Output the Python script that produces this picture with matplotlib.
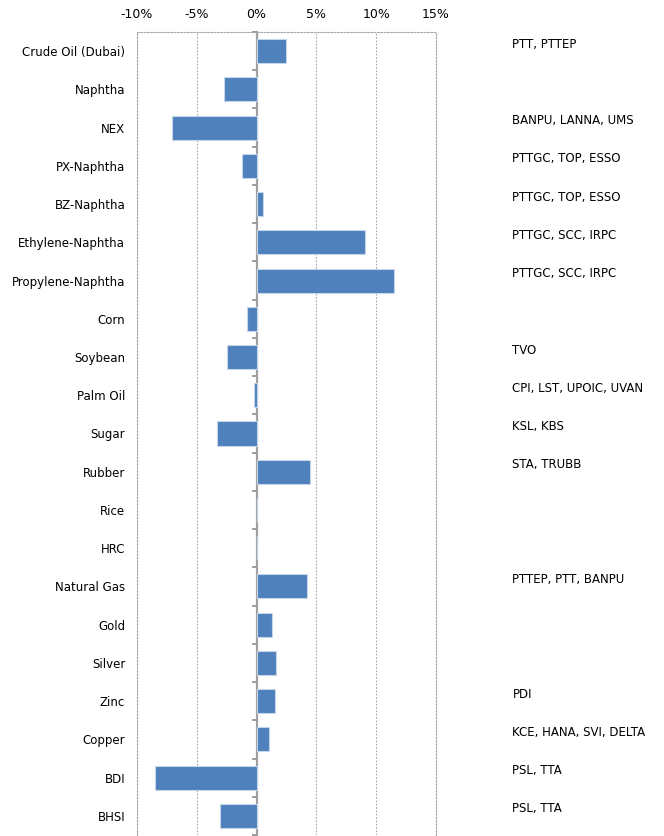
import numpy as np
import matplotlib
matplotlib.use("Agg")
import matplotlib.pyplot as plt
from matplotlib.ticker import PercentFormatter

plt.rcParams["axes.unicode_minus"] = False
plt.rcParams["font.family"] = "DejaVu Sans"

categories = ["Crude Oil (Dubai)", "Naphtha", "NEX", "PX-Naphtha", "BZ-Naphtha",
              "Ethylene-Naphtha", "Propylene-Naphtha", "Corn", "Soybean", "Palm Oil",
              "Sugar", "Rubber", "Rice", "HRC", "Natural Gas", "Gold", "Silver",
              "Zinc", "Copper", "BDI", "BHSI"]
change_pct = [2.5, -2.7, -7.1, -1.2, 0.5, 9.1, 11.5, -0.8, -2.5, -0.2,
              -3.3, 4.5, 0.05, 0.0, 4.2, 1.3, 1.6, 1.5, 1.0, -8.5, -3.1]
stocks = ["PTT, PTTEP", "", "BANPU, LANNA, UMS", "PTTGC, TOP, ESSO", "PTTGC, TOP, ESSO",
          "PTTGC, SCC, IRPC", "PTTGC, SCC, IRPC", "", "TVO", "CPI, LST, UPOIC, UVAN",
          "KSL, KBS", "STA, TRUBB", "", "", "PTTEP, PTT, BANPU", "", "",
          "PDI", "KCE, HANA, SVI, DELTA", "PSL, TTA", "PSL, TTA"]
xticks = [-10, -5, 0, 5, 10, 15]

fig = plt.figure(figsize=(6.64, 8.36), dpi=100)
ax = fig.add_axes([137 / 664, 1 / 836, 299 / 664, 803 / 836])

y = np.arange(len(categories))
ax.barh(y, change_pct, height=0.63, color="#4f81bd", edgecolor="#c5d5ea",
        linewidth=0.8, zorder=3)

ax.set_xlim(-10, 15)
ax.set_ylim(len(categories) - 0.5, -0.5)
ax.set_xticks(xticks)
ax.xaxis.set_major_formatter(PercentFormatter(decimals=0))
ax.xaxis.tick_top()
ax.tick_params(axis="x", length=0, pad=8, labelsize=9)
ax.set_yticks(y)
ax.set_yticklabels(categories)
ax.tick_params(axis="y", length=0, pad=8.5, labelsize=8.5)

dash = (0, (1.5, 1.5))
for xv in xticks:
    if xv != 0:
        ax.axvline(xv, color="#a6a6a6", lw=0.8, ls=dash, zorder=1)
for side in ("top", "left", "right"):
    ax.spines[side].set_linestyle(dash)
    ax.spines[side].set_color("#a6a6a6")
    ax.spines[side].set_linewidth(0.8)
ax.spines["bottom"].set_visible(False)

# zero axis with category boundary ticks
zero = ax.secondary_yaxis(10 / 25)
zero.set_ylim(ax.get_ylim())
zero.set_yticks(np.arange(len(categories) + 1) - 0.5)
zero.set_yticklabels([])
zero.tick_params(length=3.5, width=1.2, color="#8c8c8c")
zero.spines["left"].set_color("#a0a0a0")
zero.spines["left"].set_linewidth(1.6)

for yi, s in zip(y, stocks):
    if s:
        ax.annotate(s, (1.0, yi), xycoords=("axes fraction", "data"),
                    xytext=(55, 5), textcoords="offset points",
                    ha="left", va="center", fontsize=8.5, annotation_clip=False)

fig.savefig("out.png", dpi=100)
